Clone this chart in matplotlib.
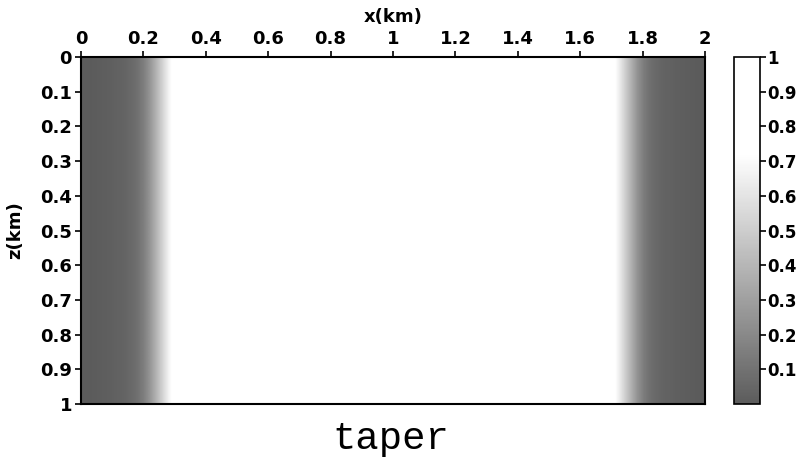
import numpy as np
import matplotlib
matplotlib.use("Agg")
import matplotlib.pyplot as plt
from matplotlib.colors import LinearSegmentedColormap

dx = 0.02
taper_left = [0.0, 0.0, 0.005, 0.01, 0.015, 0.02, 0.03, 0.04, 0.06, 0.09,
              0.15, 0.25, 0.38, 0.52, 0.66, 0.78, 0.88, 0.95, 1.0]
taper_right = list(reversed(taper_left))
n_total = 101
taper_mid = [1.0] * (n_total - len(taper_left) - len(taper_right))
profile = taper_left + taper_mid + taper_right

x_ticks = [0, 0.2, 0.4, 0.6, 0.8, 1, 1.2, 1.4, 1.6, 1.8, 2]
z_ticks = [0, 0.1, 0.2, 0.3, 0.4, 0.5, 0.6, 0.7, 0.8, 0.9, 1]
cb_ticks = [0.1, 0.2, 0.3, 0.4, 0.5, 0.6, 0.7, 0.8, 0.9, 1]

def fmt(v):
    return f"{v:g}"

W, H = 805, 462
fig = plt.figure(figsize=(W / 100, H / 100), dpi=100)
ax = fig.add_axes([81 / W, 1 - 404 / H, 624 / W, 347 / H])
cax = fig.add_axes([734 / W, 1 - 404 / H, 26 / W, 347 / H])

cmap = LinearSegmentedColormap.from_list(
    "tap", [(0.0, (0.36, 0.36, 0.36)), (0.72, (1, 1, 1)), (1.0, (1, 1, 1))])

img = np.array([profile, profile])
im = ax.imshow(img, cmap=cmap, vmin=0, vmax=1, aspect="auto",
               interpolation="bilinear",
               extent=[-dx / 2, 2 + dx / 2, 1, 0])
ax.set_xlim(0, 2)
ax.set_ylim(1, 0)

FS = 13
tfont = dict(family="DejaVu Sans", weight="bold", size=FS)
ax.xaxis.set_ticks_position("top")
ax.xaxis.set_label_position("top")
ax.set_xticks(x_ticks)
ax.set_xticklabels([fmt(v) for v in x_ticks], **tfont)
ax.set_yticks(z_ticks)
ax.set_yticklabels([fmt(v) for v in z_ticks], **tfont)
ax.tick_params(direction="out", length=4.5, width=1.2, pad=2)
for s in ax.spines.values():
    s.set_linewidth(1.5)
ax.set_xlabel("x(km)", fontdict=dict(family="DejaVu Sans", weight="bold", size=FS), labelpad=6)
ax.set_ylabel("z(km)", fontdict=dict(family="DejaVu Sans", weight="bold", size=FS), labelpad=11)

cb = fig.colorbar(im, cax=cax)
cb.set_ticks(cb_ticks)
cb.set_ticklabels([fmt(v) for v in cb_ticks])
for lab in cax.get_yticklabels():
    lab.set_fontfamily("DejaVu Sans")
    lab.set_fontweight("bold")
    lab.set_fontsize(12)
cax.tick_params(direction="out", length=4, width=1.2, pad=1)
cb.outline.set_linewidth(1.2)

fig.text(391 / W, 1 - 439 / H, "taper", family="Liberation Mono",
         size=28, ha="center", va="center")

fig.savefig("out.png", dpi=100)
